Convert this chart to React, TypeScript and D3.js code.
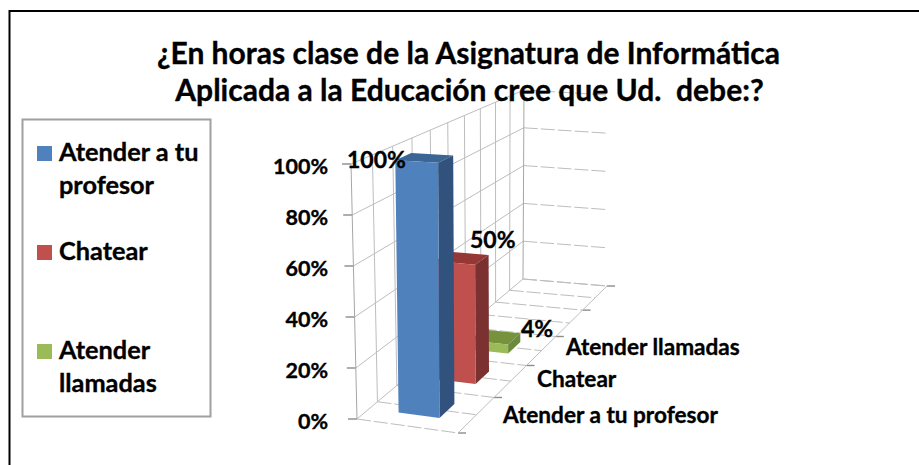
import React from "react";
import * as d3 from "d3";

const title = ["¿En horas clase de la Asignatura de Informática", "Aplicada a la Educación cree que Ud.  debe:?"];
const categories = ["Atender a tu profesor", "Chatear", "Atender llamadas"];
const values = [1.0, 0.5, 0.04];
const valueLabels = ["100%", "50%", "4%"];
const ticks = [0, 0.2, 0.4, 0.6, 0.8, 1];
const legendLines = [["Atender a tu", "profesor"], ["Chatear"], ["Atender", "llamadas"]];
const front = ["#4F81BD", "#C0504D", "#9BBB59"];
const side = ["#31527C", "#7B3130", "#6B8A3C"];
const topc = ["#3A6595", "#953735", "#76923C"];

type P = [number, number];
// homography unit square -> quad (00, 10, 11, 01)
function homography(p00: P, p10: P, p11: P, p01: P) {
  const [x0, y0] = p00, [x1, y1] = p10, [x2, y2] = p11, [x3, y3] = p01;
  const dx1 = x1 - x2, dx2 = x3 - x2, sx = x0 - x1 + x2 - x3;
  const dy1 = y1 - y2, dy2 = y3 - y2, sy = y0 - y1 + y2 - y3;
  const den = dx1 * dy2 - dx2 * dy1;
  const g = (sx * dy2 - dx2 * sy) / den;
  const h = (dx1 * sy - sx * dy1) / den;
  const a = x1 - x0 + g * x1, b = x3 - x0 + h * x3, c = x0;
  const d = y1 - y0 + g * y1, e = y3 - y0 + h * y3, f = y0;
  return (u: number, v: number): P => {
    const w = g * u + h * v + 1;
    return [(a * u + b * v + c) / w, (d * u + e * v + f) / w];
  };
}
const floor = homography([357, 419], [458, 433], [607, 286], [523, 279]);
const ceil = homography([351, 164], [457, 170], [607, 95], [524, 90]);
const heightScale = d3.scaleLinear().domain([0, 1]).range([0, 1]);
const project = (u: number, v: number, val: number): P => {
  const a = floor(u, v), b = ceil(u, v), t = heightScale(val);
  return [a[0] + (b[0] - a[0]) * t, a[1] + (b[1] - a[1]) * t];
};
const depth = d3.scaleBand().domain(categories).range([0, 0.6]).paddingInner(0.6).paddingOuter(0.3);
const across = d3.scaleLinear().domain([0, 1]).range([0.3, 0.71]);
const pts = (a: P[]) => a.map((p) => p.map((n) => n.toFixed(1)).join(",")).join(" ");
const ln = d3.line();
const gridColor = "#BDBDBD";
const depthLines = d3.range(0, 1.0001, 0.1);
const font = "Lato, 'Open Sans', sans-serif";

export default function App() {
  return (
    <svg width={919} height={465} style={{ position: "absolute", left: 0, top: 0, fontFamily: font, fontWeight: 700 }}>
      <rect width={919} height={465} fill="#fff" />
      <path d="M9.5 465V11H919" fill="none" stroke="#000" strokeWidth={2} />
      {/* walls and floor */}
      <g fill="none" stroke={gridColor} strokeWidth={1}>
        {ticks.map((t) => (
          <g key={t}>
            <path d={ln([project(0, 0, t), project(0, 1, t)]) ?? ""} />
            <path d={ln([project(0, 1, t), project(1, 1, t)]) ?? ""} strokeDasharray="14 3" />
            <path d={ln([[project(0, 0, t)[0] - 9, project(0, 0, t)[1]], project(0, 0, t)]) ?? ""} stroke="#8C8C8C" strokeWidth={1.4} />
          </g>
        ))}
        {depthLines.map((v, i) => (
          <g key={v}>
            <path d={ln([project(0, v, 0), project(0, v, 1)]) ?? ""} stroke={v === 0 || v === 1 ? "#A6A6A6" : gridColor} />
            <path d={ln([project(0, v, 0), project(1, v, 0)]) ?? ""} strokeDasharray="14 3" />
            {i % 2 === 0 && (
              <path d={ln([project(1, v, 0), [project(1, v, 0)[0] + 8, project(1, v, 0)[1]]]) ?? ""} stroke="#8C8C8C" strokeWidth={1.4} />
            )}
          </g>
        ))}
        <path d={ln([project(1, 0, 0), project(1, 1, 0)]) ?? ""} />
      </g>
      {/* bars, back to front */}
      {categories.map((c, i) => i).reverse().map((i) => {
        const c = categories[i];
        const v0 = depth(c) ?? 0, v1 = v0 + depth.bandwidth();
        const u0 = across(0), u1 = across(1), h = values[i];
        return (
          <g key={c}>
            <polygon points={pts([project(u0, v0, h), project(u1, v0, h), project(u1, v1, h), project(u0, v1, h)])} fill={topc[i]} />
            <polygon points={pts([project(u1, v0, 0), project(u1, v1, 0), project(u1, v1, h), project(u1, v0, h)])} fill={side[i]} />
            <polygon points={pts([project(u0, v0, 0), project(u1, v0, 0), project(u1, v0, h), project(u0, v0, h)])} fill={front[i]} />
          </g>
        );
      })}
      {/* all text, slightly thickened */}
      <g stroke="#000" strokeWidth={0.35} fill="#000">
        {/* title */}
        <g fontSize={30} textAnchor="middle">
          <text x={468.5} y={64}>{title[0]}</text>
          <text x={469.5} y={101} xmlSpace="preserve" style={{ whiteSpace: "pre" }}>{title[1]}</text>
        </g>
        {/* value axis */}
        <g fontSize={21.5} textAnchor="end">
          {ticks.map((t) => (
            <text key={t} x={328} y={project(0, 0, t)[1] + 10}>{`${Math.round(t * 100)}%`}</text>
          ))}
        </g>
        {/* value labels */}
        <g fontSize={23}>
          <text x={347} y={168}>{valueLabels[0]}</text>
          <text x={470} y={248}>{valueLabels[1]}</text>
          <text x={521} y={337}>{valueLabels[2]}</text>
        </g>
        {/* category labels */}
        <g fontSize={22.6}>
          <text x={503} y={423}>{categories[0]}</text>
          <text x={537} y={387}>{categories[1]}</text>
          <text x={566} y={355}>{categories[2]}</text>
        </g>
      </g>
      {/* legend */}
      <rect x={22.5} y={119.5} width={188} height={297} fill="#fff" stroke="#A0A0A0" strokeWidth={2} />
      {[146, 245, 344].map((y, i) => (
        <g key={categories[i]}>
          <rect x={37} y={y} width={15} height={15} fill={front[i]} />
          {legendLines[i].map((s, j) => (
            <text key={s} x={59} y={y + 15 + j * 33} fontSize={25.3} fill="#000" stroke="#000" strokeWidth={0.35}>{s}</text>
          ))}
        </g>
      ))}
    </svg>
  );
}
